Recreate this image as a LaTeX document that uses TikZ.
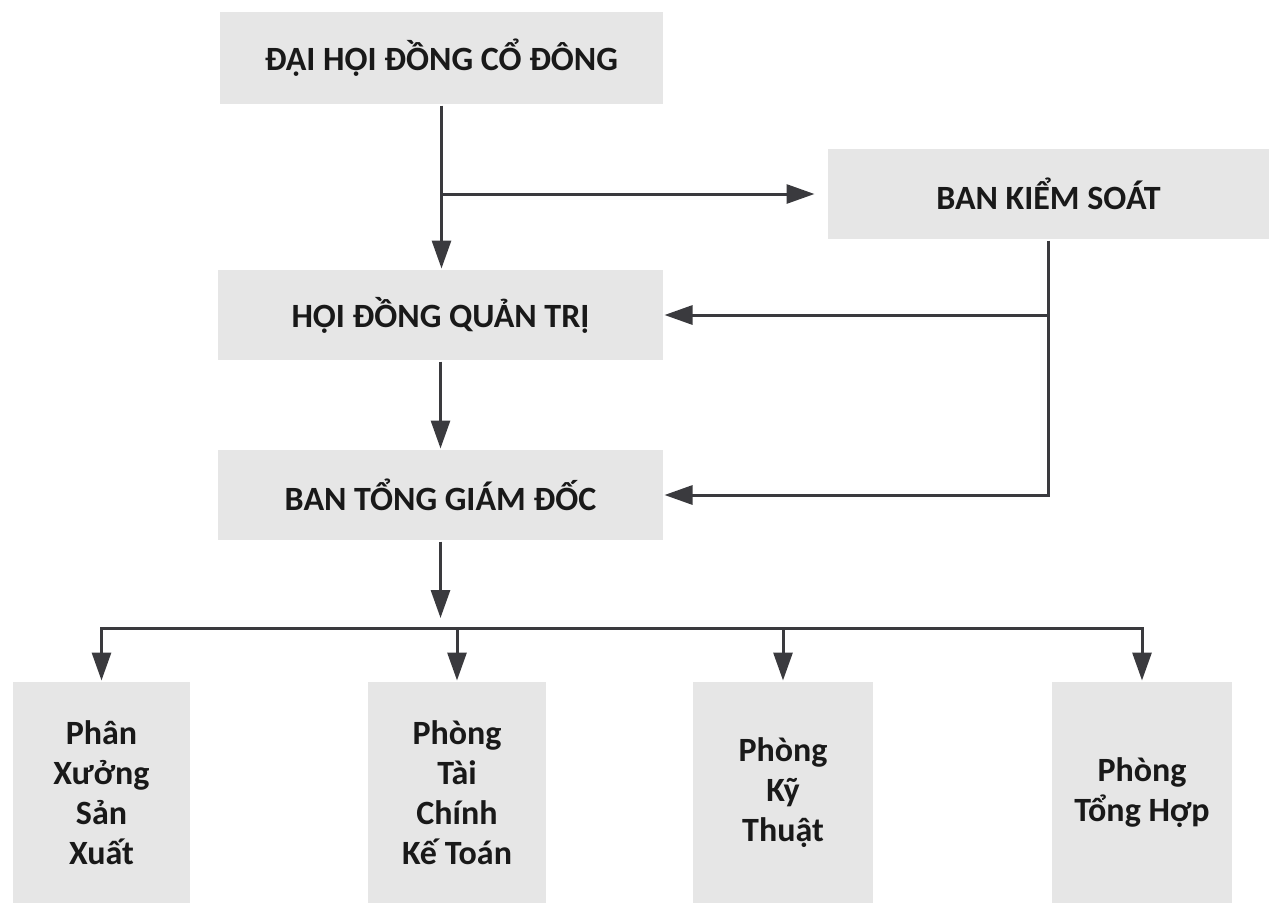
\documentclass[tikz,border=0pt]{standalone}
\usepackage{fontspec}
\setmainfont{Carlito}
\usetikzlibrary{arrows.meta,positioning,calc}
\definecolor{boxgray}{RGB}{230,230,230}
\definecolor{linegray}{RGB}{58,58,62}

\begin{document}
\begin{tikzpicture}[x=1pt,y=-1pt,line width=3pt,linegray,
    >={Triangle[length=28pt,width=19pt]}]
    \tikzset{box/.style={fill=boxgray, text=black!90, inner sep=0pt, align=center,
        font=\bfseries\fontsize{34}{40}\selectfont, minimum height=90pt}}
    \tikzset{dept/.style={box, minimum height=221pt}}
    \useasboundingbox (0,0) rectangle (1269,903);

    \node[box, minimum width=443pt, minimum height=92pt] (dhd) at (441.5,58) {ĐẠI HỘI ĐỒNG CỔ ĐÔNG};
    \node[box, minimum width=441pt] (bks)  at (1048.5,194) {BAN KIỂM SOÁT};
    \node[box, minimum width=445pt] (hdqt) at (440.5,315) {HỘI ĐỒNG QUẢN TRỊ};
    \node[box, minimum width=445pt] (btgd) at (440.5,495) {BAN TỔNG GIÁM ĐỐC};

    \node[dept, minimum width=177pt] (px) at (101.5,792.5) {Phân\\Xưởng\\Sản\\Xuất};
    \node[dept, minimum width=178pt] (tc) at (457,792.5)   {Phòng\\Tài\\Chính\\Kế Toán};
    \node[dept, minimum width=180pt] (kt) at (783,792.5)   {Phòng\\Kỹ\\Thuật};
    \node[dept, minimum width=180pt] (th) at (1142,792.5)  {Phòng\\Tổng Hợp};

    \coordinate (bus) at (btgd.south |- 0,628);

    % upper part
    \draw[->] (dhd.south) -- (dhd.south |- hdqt.north);
    \draw[->, shorten >=12pt] (dhd.south |- bks.west) -- (bks.west);
    \draw[->] (bks.south) |- (btgd.east);
    \draw[->] (bks.south |- hdqt.east) -- (hdqt.east);
    \draw[->] (hdqt.south) -- (hdqt.south |- btgd.north);

    % departments
    \draw[->, shorten >=10pt] (btgd.south) -- (bus);
    \draw[<->] (px.north) |- (bus) -| (th.north);
    \draw[->] (tc.north |- bus) -- (tc.north);
    \draw[->] (kt.north |- bus) -- (kt.north);
\end{tikzpicture}
\end{document}
